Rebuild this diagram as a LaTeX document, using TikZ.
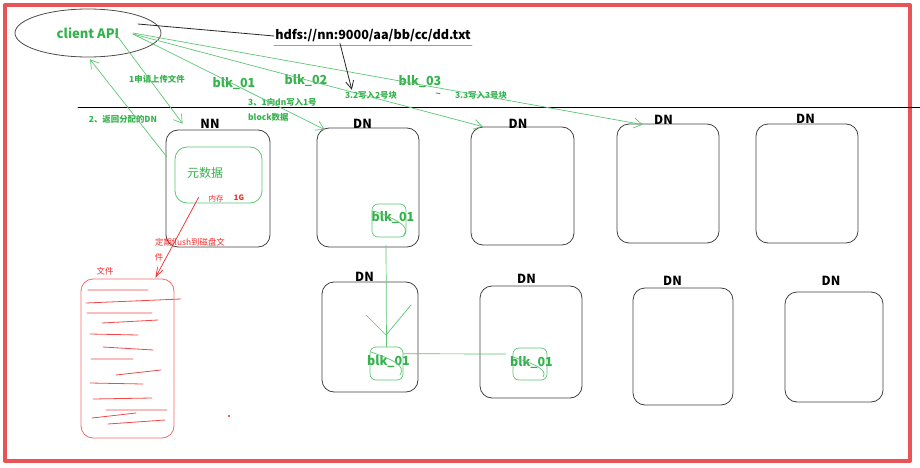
\documentclass[tikz,border=0pt]{standalone}
\usepackage{fontspec}
\setmainfont{Noto Sans CJK SC}
\usetikzlibrary{arrows.meta,shapes.geometric,calc}
\definecolor{hgreen}{RGB}{52,178,76}
\definecolor{lgreen}{RGB}{92,198,116}
\definecolor{hred}{RGB}{242,40,40}
\definecolor{framered}{RGB}{232,84,86}
\tikzset{
  dnbox/.style={draw=black!75, line width=0.8pt, rounded corners=12pt},
  dnlabel/.style={font=\bfseries\fontsize{12.5}{14}\selectfont, inner sep=0pt},
  gtext/.style={text=hgreen, font=\bfseries\fontsize{8.4}{10}\selectfont, inner sep=0pt},
  blktext/.style={text=hgreen, font=\bfseries\fontsize{12.5}{14}\selectfont, inner sep=0pt},
  blkbox/.style={draw=lgreen, line width=0.7pt, rounded corners=6pt},
  rtext/.style={text=hred, font=\fontsize{8.4}{10}\selectfont, inner sep=0pt},
  gline/.style={draw=lgreen, line width=0.7pt},
  garrow/.style={gline, -{Straight Barb[length=8pt,width=10pt]}},
}
\begin{document}
\begin{tikzpicture}[x=1pt, y=-1pt, line join=round, line cap=round]
\useasboundingbox (0,0) rectangle (920,468);
\draw[framered, line width=4pt] (5,5) rectangle (910,461);
\draw[black, line width=0.8pt] (78,107.5) -- (920,107.5);

% client and file path
\node[draw=black!70, ellipse, line width=0.8pt, minimum width=146pt, minimum height=48pt,
  text=hgreen, font=\bfseries\fontsize{13}{15}\selectfont] (api) at (88,33) {client API};
\node[font=\bfseries\fontsize{12.6}{15}\selectfont, inner sep=1pt] (hdfs) at (373,36) {hdfs://nn:9000/aa/bb/cc/dd.txt};
\draw[lgreen, line width=0.7pt] ([yshift=-2pt]hdfs.south west) -- ([yshift=-2pt]hdfs.south east);
\draw[black!85, line width=0.8pt] ($(api.center)+(50,-9)$) -- (hdfs.west);

% labels on the arrows
\node[gtext] (ask) at (157,79) {1申请上传文件};
\node[gtext] (ret) at (123,119) {2、返回分配的DN};
\node[blktext] (k1) at (234,84) {blk\_01};
\node[blktext] (k2) at (306,81) {blk\_02};
\node[blktext] (k3) at (420,82) {blk\_03};
\node[gtext, align=left, anchor=west] (w1) at (248,109.5) {3、1向dn写入1号\\[5pt]block数据};
\node[gtext] (w2) at (371,95) {3.2写入2号块};
\node[gtext] (w3) at (481,95) {3.3写入3号块};
\draw[black!60, line width=0.8pt] (436,93) -- (440,93.5);

% name node
\node[dnbox, minimum width=104pt, minimum height=117pt] (nn) at (218,188.5) {};
\node[dnlabel] (nnl) at (210,124) {NN};
\node[draw=lgreen, line width=0.8pt, rounded corners=12pt, minimum width=87pt, minimum height=56pt] (meta) at (218.5,175) {};
\node[text=hgreen, font=\fontsize{12}{14}\selectfont, inner sep=0pt] (metal) at (205,173) {元数据};
\node[rtext, font=\fontsize{7.5}{9}\selectfont] (mem) at (216,199) {内存};
\node[rtext, font=\bfseries\fontsize{7.5}{9}\selectfont] (gb) at (239,198) {1G};

% data nodes
\node[dnbox, minimum width=102pt, minimum height=119pt] (dn1) at (368,187.5) {};
\node[dnbox, minimum width=103pt, minimum height=118pt] (dn2) at (522.5,186) {};
\node[dnbox, minimum width=102pt, minimum height=119pt] (dn3) at (668,183.5) {};
\node[dnbox, minimum width=102pt, minimum height=119pt] (dn4) at (807,183.5) {};
\node[dnbox, minimum width=96pt, minimum height=110pt] (dn5) at (370,337) {};
\node[dnbox, minimum width=102pt, minimum height=112pt] (dn6) at (531,342) {};
\node[dnbox, minimum width=100pt, minimum height=117pt] (dn7) at (683,346.5) {};
\node[dnbox, minimum width=98pt, minimum height=110pt] (dn8) at (834,347) {};
\node[dnlabel] (dnl1) at (362.5,124) {DN};
\node[dnlabel] (dnl2) at (518,123.5) {DN};
\node[dnlabel] (dnl3) at (663.5,120) {DN};
\node[dnlabel] (dnl4) at (805.5,119) {DN};
\node[dnlabel] (dnl5) at (364.5,277) {DN};
\node[dnlabel] (dnl6) at (526.5,279) {DN};
\node[dnlabel] (dnl7) at (672.5,281) {DN};
\node[dnlabel] (dnl8) at (831,281) {DN};

% blocks
\node[blkbox, minimum width=34pt, minimum height=33pt] (b1) at (389,220.5) {};
\node[blkbox, minimum width=33pt, minimum height=33pt] (b2) at (386.5,363.5) {};
\node[blkbox, minimum width=34pt, minimum height=32pt] (b3) at (530,364) {};
\node[blktext] (t1) at (393,218) {blk\_01};
\node[blktext] (t2) at (388.5,362) {blk\_01};
\node[blktext] (t3) at (531.5,363) {blk\_01};
\draw[gline] (374,211) .. controls (398,220) and (410,226) .. (404,235);
\draw[gline] (371,352) .. controls (394,360) and (406,366) .. (400,375);
\draw[gline] (513,357) .. controls (535,364) and (548,370) .. (543,377);

% file on disk
\node[draw=hred!70, line width=0.8pt, rounded corners=12pt, minimum width=93pt, minimum height=159pt] (file) at (127.5,358.5) {};
\node[rtext] (filel) at (105,271) {文件};
\node[rtext] (flush) at (190,242) {定期flush到磁盘文};
\node[rtext] (flush2) at (159,257) {件};
\draw[hred!85, line width=0.8pt]
  (88,290) -- (148,290)
  (86,303) -- (181,299)
  (87,313) -- (152,313)
  (102,323) -- (158,320)
  (90,334) -- (138,335)
  (103,347) -- (153,350)
  (91,359) -- (133,359)
  (116,375) -- (161,370)
  (90,383) -- (143,384)
  (93,399) -- (152,398)
  (106,410) -- (167,410)
  (92,418) -- (136,413)
  (108,424) -- (165,420);
\fill[hred] (229,416) circle (1.2pt);

% connectors
\draw[garrow] ($(api.center)+(27,0)$) -- ($(nn.north west)+(17,-6)$);
\draw[garrow] ($(nn.north west)+(1,27)$) -- ($(api.south)+(2,2)$);
\draw[garrow] ($(api.center)+(45,1)$) -- ($(dn1.north west)+(8,2)$);
\draw[garrow] ($(api.center)+(45,1)$) -- ($(dn2.north west)+(12,0)$);
\draw[garrow] ($(api.center)+(45,0)$) -- ($(dn3.north west)+(26,1)$);
\draw[black!85, line width=0.8pt, -{Straight Barb[length=8pt,width=8pt]}] ($(hdfs.south)+(-33,0)$) -- ($(w2.north west)+(7,-1)$);
\draw[gline] ($(b1.south)+(-3,8)$) -- (b2.north);
\draw[gline] (366,315) -- (386,335) -- (411,305);
\draw[gline] (b2.30) -- ([xshift=-7pt]b3.150);
\draw[hred, line width=0.7pt, -{Straight Barb[length=9pt,width=6pt]}] ($(meta.south west)+(24,-6)$) -- ($(file.north east)+(-19,-1)$);
\end{tikzpicture}
\end{document}
